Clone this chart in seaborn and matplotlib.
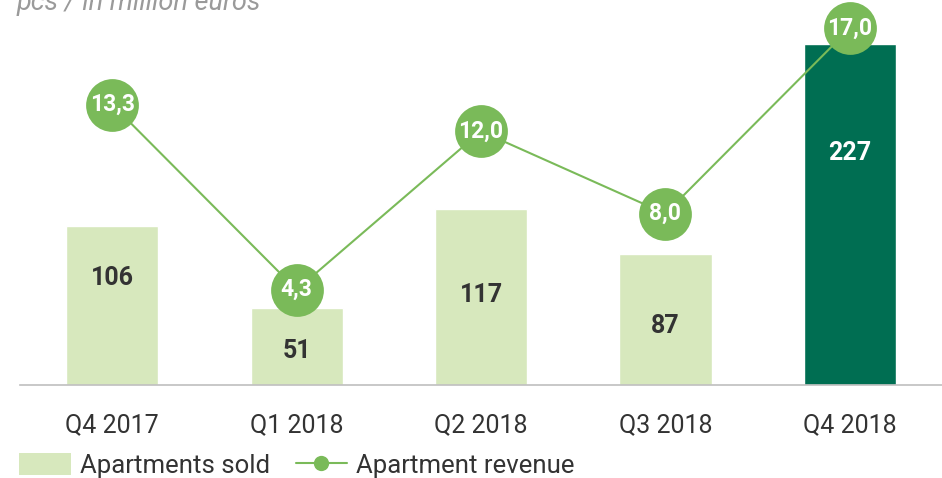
import numpy as np
import pandas as pd
import matplotlib
matplotlib.use("Agg")
import matplotlib.pyplot as plt
import seaborn as sns
from matplotlib.patches import Patch
from matplotlib.lines import Line2D

categories = ["Q4 2017", "Q1 2018", "Q2 2018", "Q3 2018", "Q4 2018"]
apartments_sold = [106, 51, 117, 87, 227]
apartment_revenue = [13.3, 4.3, 12.0, 8.0, 17.0]
revenue_labels = ["13,3", "4,3", "12,0", "8,0", "17,0"]

sns.set_theme(style="white")
plt.rcParams['font.family'] = ['Roboto', 'DejaVu Sans']

LIGHT = "#d7e8bd"
DARK = "#006e52"
LINE = "#7aba59"
TEXT = "#333333"

bar_colors = [LIGHT, LIGHT, LIGHT, LIGHT, DARK]
label_colors = [TEXT, TEXT, TEXT, TEXT, "white"]
label_frac = [0.67, 0.44, 0.51, 0.45, 0.68]

fig = plt.figure(figsize=(9.42, 4.78), dpi=100)
ax = fig.add_axes([20/942, 93/478, 922/942, 385/478])

df = pd.DataFrame({"cat": categories, "sold": apartments_sold})
sns.barplot(data=df, x="cat", y="sold", hue="cat", palette=bar_colors,
            legend=False, width=0.5, ax=ax, saturation=1)

ax.set_xlim(-0.5, 4.5)
ax.set_ylim(0, 385/1.502)
for i, v in enumerate(apartments_sold):
    ax.text(i, v*label_frac[i], str(v), ha="center", va="center",
            fontsize=18, fontweight="bold", color=label_colors[i])

ax2 = ax.twinx()
x = np.arange(len(categories))
sns.lineplot(x=x, y=apartment_revenue, ax=ax2, color=LINE, linewidth=1.5,
             marker="o", markersize=38, markeredgewidth=0, markerfacecolor=LINE)
ax2.set_ylim(-7/21.33, 392/21.33)
for i, v in enumerate(apartment_revenue):
    ax2.text(i, v, revenue_labels[i], ha="center", va="center",
             fontsize=16.5, fontweight="bold", color="white")
ax2.set_yticks([])
ax2.set_xlim(-0.5, 4.5)

for a in (ax, ax2):
    for s in ["top", "right", "left", "bottom"]:
        a.spines[s].set_visible(False)
ax.spines["bottom"].set_visible(True)
ax.spines["bottom"].set_color("#bfbfbf")
ax.spines["bottom"].set_linewidth(1.2)

ax.set_yticks([])
ax.set_ylabel("")
ax2.set_ylabel("")
ax.set_xlabel("")
ax.set_xticks(x)
ax.set_xticklabels(categories, fontsize=18, color=TEXT)
ax.tick_params(axis="x", which="major", length=0, pad=20)
ax.set_xticks(np.arange(-0.5, 5.0, 1.0), minor=True)
ax.tick_params(axis="x", which="minor", length=8, color="#bfbfbf", width=1.2, direction="out")

fig.text(17/942, 1 - 10/478, "pcs / in million euros", fontsize=19.5, style="italic",
         color="#9a9a9a", ha="left", va="baseline")

handles = [Patch(facecolor=LIGHT, edgecolor="none", label="Apartments sold"),
           Line2D([0], [0], color=LINE, linewidth=1.5, marker="o", markersize=11,
                  markerfacecolor=LINE, markeredgewidth=0, label="Apartment revenue")]
fig.legend(handles=handles, loc="lower left", bbox_to_anchor=(4/942, -15/478),
           ncol=2, frameon=False, fontsize=18.5, handlelength=2.0, handleheight=0.95,
           handletextpad=0.35, columnspacing=1.0, labelcolor=TEXT, borderaxespad=0.2)

fig.savefig("out.png", dpi=100)
